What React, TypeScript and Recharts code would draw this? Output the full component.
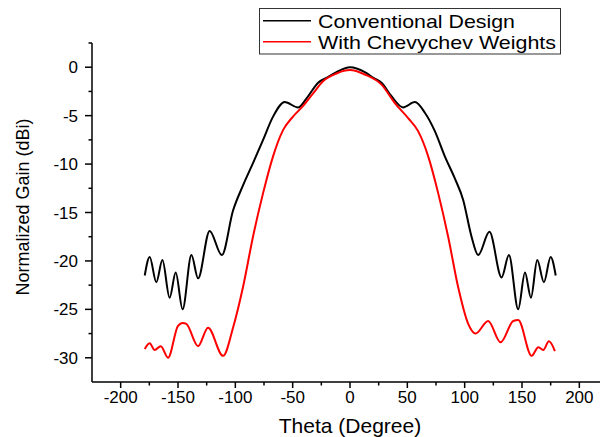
import React from "react";
import { LineChart, Line, XAxis, YAxis } from "recharts";

// ---- Data ----
const conventionalTheta = [
  -179, -174.7, -168.9, -163.6, -157.3, -152, -146, -138.3, -132.5, -122.4, -111.8, -102, -93.3, -84.6,
  -75.8, -67.1, -56.9, -45.3, -36.6, -27.8, -20.5, -11.8, 0, 12.9, 20.5, 27.5, 36.2, 46.3, 56.6, 65.3,
  74, 82.7, 91.5, 98.7, 106, 111.8, 121.6, 132.2, 138.6, 146.7, 152.6, 157.8, 163.3, 169.1, 175, 179.4,
];
const conventionalGain = [
  -21.5, -19.6, -22.2, -19.9, -23.8, -21.2, -25.0, -19.4, -21.8, -16.9, -19.4, -14.8, -12.2, -9.9,
  -7.5, -5.1, -3.6, -4.15, -3.0, -1.6, -1.1, -0.5, 0, -0.5, -1.1, -1.6, -3.0, -4.15, -3.6, -4.7,
  -6.6, -9.2, -11.5, -13.7, -17.5, -19.4, -17.0, -21.7, -19.4, -25.0, -21.2, -23.8, -19.9, -22.2, -19.6, -21.5,
];

const chebyTheta = [
  -179, -174.7, -170.4, -165, -158.7, -150, -146, -142.7, -132.5, -123.8, -110.7, -102, -93.3, -84.6,
  -75.8, -67.1, -58.4, -49.7, -40.9, -32.2, -23.5, -11.8, 0, 12.9, 27.5, 39.1, 50.7, 59.4, 68.2, 76.9,
  85.6, 94.3, 103.1, 109.5, 120.5, 131.3, 142.4, 146.7, 158.4, 164.2, 168.5, 173.5, 178.7,
];
const chebyGain = [
  -29.1, -28.5, -29.2, -28.8, -30.0, -26.7, -26.4, -26.5, -28.8, -26.9, -29.8, -26.9, -22.7, -17.5,
  -13.0, -9.2, -6.5, -5.1, -4.0, -2.7, -1.45, -0.65, -0.3, -0.75, -1.8, -3.7, -5.25, -6.6, -9.2, -13.0,
  -17.5, -22.7, -26.5, -27.5, -26.2, -28.4, -26.2, -26.1, -29.8, -28.9, -29.2, -28.3, -29.3,
];

const seriesNames = ["Conventional Design", "With Chevychev Weights"];
const seriesColors = ["#000000", "#ff0000"];

const xMajorTicks = [-200, -150, -100, -50, 0, 50, 100, 150, 200];
const xMinorTicks = [-175, -125, -75, -25, 25, 75, 125, 175, 225];
const yMajorTicks = [-30, -25, -20, -15, -10, -5, 0];
const yMinorTicks = [-27.5, -22.5, -17.5, -12.5, -7.5, -2.5, 2.5];

const xLabel = "Theta (Degree)";
const yLabel = "Normalized Gain (dBi)";

const conventionalData = conventionalTheta.map((t, i) => ({ theta: t, gain: conventionalGain[i] }));
const chebyData = chebyTheta.map((t, i) => ({ theta: t, gain: chebyGain[i] }));

const FONT = "'Liberation Sans', Arial, sans-serif";
const xAllTicks = [...xMajorTicks, ...xMinorTicks].sort((a, b) => a - b);
const yAllTicks = [...yMajorTicks, ...yMinorTicks].sort((a, b) => a - b);

const XTick = (props: any) => {
  const { x, y, payload } = props;
  const major = xMajorTicks.includes(payload.value);
  return (
    <g>
      <line x1={x} x2={x} y1={y} y2={y + (major ? 6 : 3.5)} stroke="#000" strokeWidth={1.5} />
      {major && (
        <text x={x} y={y + 21} textAnchor="middle" fontSize={17} fontFamily={FONT} fill="#000">
          {payload.value}
        </text>
      )}
    </g>
  );
};

const YTick = (props: any) => {
  const { x, y, payload } = props;
  const major = yMajorTicks.includes(payload.value);
  return (
    <g>
      <line x1={x} x2={x - (major ? 7 : 3.5)} y1={y} y2={y} stroke="#000" strokeWidth={1.5} />
      {major && (
        <text x={x - 14} y={y + 6} textAnchor="end" fontSize={17} fontFamily={FONT} fill="#000">
          {payload.value}
        </text>
      )}
    </g>
  );
};

export default function App() {
  return (
    <div
      style={{
        position: "fixed",
        left: 0,
        top: 0,
        width: 600,
        height: 437,
        overflow: "hidden",
        background: "#fff",
      }}
    >
      <LineChart
        width={620}
        height={437}
        margin={{ top: 43, right: 12, left: 0, bottom: 0 }}
      >
        <XAxis
          type="number"
          dataKey="theta"
          domain={[-225, 225]}
          ticks={xAllTicks}
          interval={0}
          allowDataOverflow
          tickSize={0}
          tickMargin={0}
          tickLine={false}
          tick={<XTick />}
          height={55}
          axisLine={{ stroke: "#000", strokeWidth: 1.5 }}
        />
        <YAxis
          type="number"
          domain={[-32.5, 2.5]}
          ticks={yAllTicks}
          interval={0}
          allowDataOverflow
          tickSize={0}
          tickMargin={0}
          tickLine={false}
          tick={<YTick />}
          width={92}
          axisLine={{ stroke: "#000", strokeWidth: 1.5 }}
        />
        <Line
          data={conventionalData}
          dataKey="gain"
          type="monotone"
          stroke={seriesColors[0]}
          strokeWidth={2}
          dot={false}
          isAnimationActive={false}
        />
        <Line
          data={chebyData}
          dataKey="gain"
          type="monotone"
          stroke={seriesColors[1]}
          strokeWidth={2}
          dot={false}
          isAnimationActive={false}
        />
      </LineChart>
      <svg
        width={600}
        height={437}
        style={{ position: "absolute", left: 0, top: 0, pointerEvents: "none" }}
      >
        <text
          x={350}
          y={433}
          textAnchor="middle"
          fontSize={21}
          fontFamily={FONT}
          fill="#000"
        >
          {xLabel}
        </text>
        <text
          x={29}
          y={207}
          textAnchor="middle"
          fontSize={18}
          fontFamily={FONT}
          fill="#000"
          transform="rotate(-90 29 207)"
        >
          {yLabel}
        </text>
        <rect x={259.5} y={8.5} width={301} height={45.5} fill="#fff" stroke="#333" strokeWidth={1} />
        {seriesNames.map((name, i) => (
          <g key={name}>
            <line x1={263} x2={311} y1={20.7 + i * 21} y2={20.7 + i * 21} stroke={seriesColors[i]} strokeWidth={1.5} />
            <text
              x={318}
              y={27.5 + i * 21}
              fontSize={19}
              fontFamily={FONT}
              fill="#000"
              textLength={i === 0 ? 197 : 238}
              lengthAdjust="spacingAndGlyphs"
            >
              {name}
            </text>
          </g>
        ))}
      </svg>
    </div>
  );
}
